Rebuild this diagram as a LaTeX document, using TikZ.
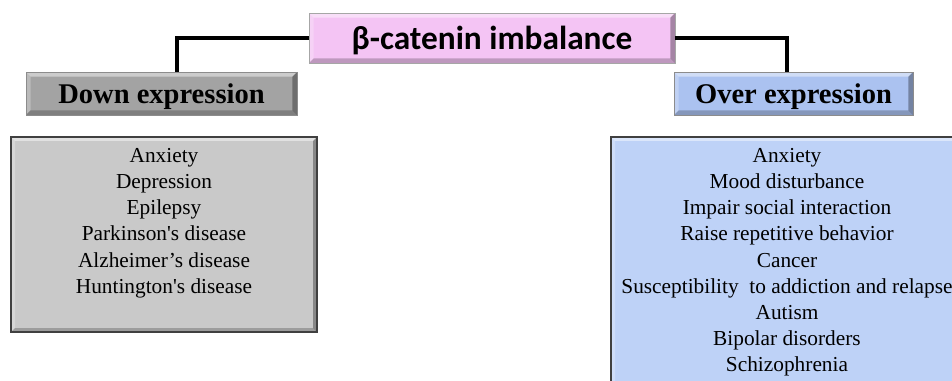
\documentclass[tikz,border=0pt]{standalone}
\usepackage{fontspec}
\setmainfont{Liberation Serif}[Ligatures=TeXOff]
\newfontfamily\titlefont{Carlito}
\usetikzlibrary{calc}

\definecolor{titlepink}{HTML}{F4C4F4}
\definecolor{hdrgray}{HTML}{A3A3A3}
\definecolor{hdrblue}{HTML}{ABC2F0}
\definecolor{listgray}{HTML}{C9C9C9}
\definecolor{listblue}{HTML}{BED2F7}

\tikzset{
  bevel/.style={path picture={
    \fill[white,opacity=.45] (path picture bounding box.north west) -- (path picture bounding box.north east)
      -- ([shift={(-#1,-#1)}]path picture bounding box.north east) -- ([shift={(#1,-#1)}]path picture bounding box.north west) -- cycle;
    \fill[white,opacity=.25] (path picture bounding box.north west) -- (path picture bounding box.south west)
      -- ([shift={(#1,#1)}]path picture bounding box.south west) -- ([shift={(#1,-#1)}]path picture bounding box.north west) -- cycle;
    \fill[black,opacity=.22] (path picture bounding box.south west) -- (path picture bounding box.south east)
      -- ([shift={(-#1,#1)}]path picture bounding box.south east) -- ([shift={(#1,#1)}]path picture bounding box.south west) -- cycle;
    \fill[black,opacity=.32] (path picture bounding box.north east) -- (path picture bounding box.south east)
      -- ([shift={(-#1,#1)}]path picture bounding box.south east) -- ([shift={(-#1,-#1)}]path picture bounding box.north east) -- cycle;
  }},
  titlebox/.style={draw=black!35, line width=0.6pt, fill=titlepink, bevel=3.5pt, inner sep=0pt, text depth=0pt,
    minimum width=274.5pt, minimum height=37.5pt, font=\titlefont\bfseries\fontsize{25}{30}\selectfont},
  hdrbox/.style={draw=black!45, line width=0.6pt, bevel=3.5pt, inner sep=0pt, text depth=0pt,
    minimum height=32.25pt, font=\bfseries\fontsize{21.4}{25}\selectfont},
  listbox/.style={draw=black!75, line width=1.3pt, bevel=3pt, inner sep=0pt},
  listtext/.style={inner sep=0pt, align=center, anchor=north, font=\fontsize{16}{19.65}\selectfont},
  link/.style={line width=2.3pt, black}
}

\begin{document}
\begin{tikzpicture}[x=0.75pt, y=-0.75pt]
\useasboundingbox (0,0) rectangle (952,381);
\clip (0,0) rectangle (952,381);

% top box
\node[titlebox] (title) at (492,38) {β-catenin imbalance};

% headers
\node[hdrbox, fill=hdrgray, minimum width=203.25pt] (down) at (161.5,93.5) {Down expression};
\node[hdrbox, fill=hdrblue, minimum width=179.25pt] (over) at (793.5,93.5) {Over expression};

% connectors
\draw[link] (title.west) -| ([xshift=11.6pt]down.north);
\draw[link] (title.east) -| ([xshift=-4.9pt]over.north);

% lists
\node[listbox, fill=listgray, minimum width=229.5pt, minimum height=146.25pt] (downlist) at (164,234.5) {};
\node[listbox, fill=listblue, minimum width=265.5pt, minimum height=193.5pt] (overlist) at (788,266) {};

\node[listtext] (downitems) at (164,148) {Anxiety\\Depression\\Epilepsy\\Parkinson's disease\\Alzheimer’s disease\\Huntington's disease};
\node[listtext] (overitems) at (787,148) {Anxiety\\Mood disturbance\\Impair social interaction\\Raise repetitive behavior\\Cancer\\Susceptibility\ \ to addiction and relapse\\Autism\\Bipolar disorders\\Schizophrenia};
\end{tikzpicture}
\end{document}
